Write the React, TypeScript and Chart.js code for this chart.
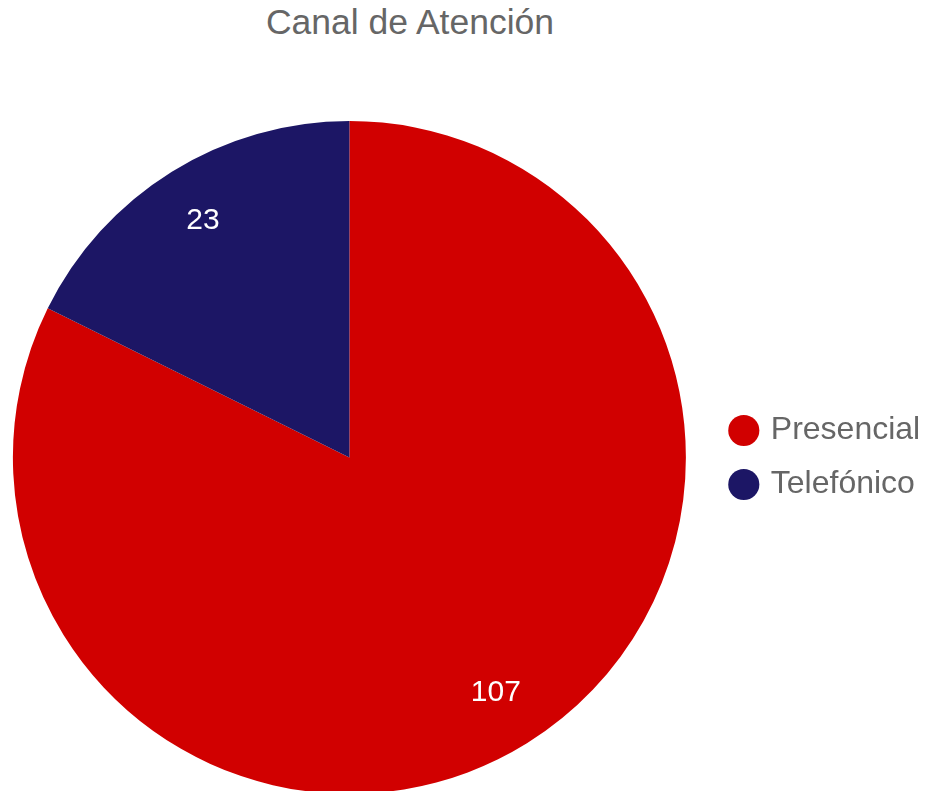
import React, { useEffect, useRef } from "react";
import { Chart, registerables } from "chart.js";

Chart.register(...registerables);

const categories = ["Presencial", "Telefónico"];
const values = [107, 23];
const sliceColors = ["#d10000", "#1c1665"];
const titleText = "Canal de Atención";

const FONT = '"Liberation Sans", Arial, Helvetica, sans-serif';

const sliceLabels = {
  id: "sliceLabels",
  afterDatasetsDraw(chart: any) {
    const { ctx } = chart;
    const meta = chart.getDatasetMeta(0);
    const data = chart.data.datasets[0].data as number[];
    ctx.save();
    ctx.fillStyle = "#ffffff";
    ctx.font = `30px ${FONT}`;
    ctx.textAlign = "center";
    ctx.textBaseline = "middle";
    meta.data.forEach((arc: any, i: number) => {
      const { x, y, startAngle, endAngle, outerRadius } = arc.getProps(
        ["x", "y", "startAngle", "endAngle", "outerRadius"],
        true
      );
      const mid = (startAngle + endAngle) / 2;
      const r = outerRadius * 0.825;
      ctx.fillText(String(data[i]), x + Math.cos(mid) * r, y + Math.sin(mid) * r - 1);
    });
    ctx.restore();
  },
};

export default function App() {
  const canvasRef = useRef<HTMLCanvasElement | null>(null);

  useEffect(() => {
    if (!canvasRef.current) return;
    const chart = new Chart(canvasRef.current, {
      type: "pie",
      data: {
        labels: categories,
        datasets: [
          {
            data: values,
            backgroundColor: sliceColors,
            borderWidth: 0,
          },
        ],
      },
      options: {
        responsive: false,
        animation: false,
        layout: { padding: { left: 0, right: 17.8, top: 121, bottom: 0 } },
        plugins: {
          title: { display: false },
          legend: {
            position: "right",
            fullSize: false,
            labels: {
              usePointStyle: true,
              pointStyle: "circle",
              boxWidth: 22,
              boxHeight: 22,
              padding: 22,
              color: "#666666",
              font: { family: FONT, size: 32 },
            },
          },
          tooltip: { enabled: false },
        },
      } as any,
      plugins: [sliceLabels],
    });
    return () => chart.destroy();
  }, []);

  return (
    <div
      style={{
        position: "fixed",
        left: 0,
        top: 0,
        width: 925,
        height: 791,
        overflow: "hidden",
        background: "#ffffff",
      }}
    >
      <div
        style={{
          position: "absolute",
          left: 0,
          top: 5,
          width: 820,
          textAlign: "center",
          fontFamily: FONT,
          fontSize: 35.5,
          lineHeight: "35px",
          color: "#666666",
          whiteSpace: "nowrap",
        }}
      >
        {titleText}
      </div>
      <div style={{ position: "absolute", left: -12, top: 0, width: 960, height: 794 }}>
        <canvas
          ref={canvasRef}
          width={960}
          height={794}
          style={{ display: "block", width: 960, height: 794 }}
        />
      </div>
    </div>
  );
}
